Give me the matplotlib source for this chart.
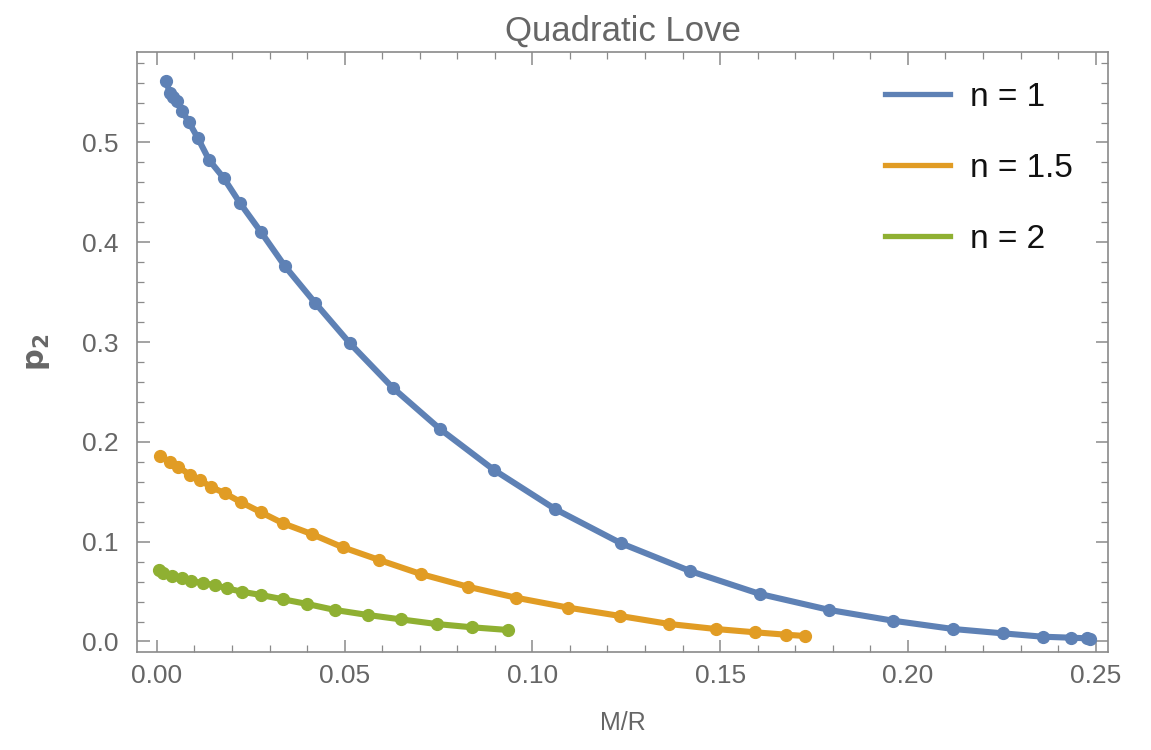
import matplotlib
matplotlib.use("Agg")
import matplotlib.pyplot as plt
from matplotlib.ticker import MultipleLocator

plt.rcParams['font.family'] = ['Liberation Sans', 'DejaVu Sans']

# Quadratic Love number p2 versus compactness M/R for three polytropic indices
mr_n1 = [0.0024, 0.0035, 0.0043, 0.0053, 0.0067, 0.0085, 0.0109, 0.0139, 0.0178,
         0.0221, 0.0277, 0.0341, 0.0421, 0.0514, 0.0628, 0.0754, 0.0898, 0.1060,
         0.1236, 0.1420, 0.1606, 0.1791, 0.1961, 0.2121, 0.2252, 0.2359, 0.2435,
         0.2477, 0.2485]
p2_n1 = [0.5616, 0.5496, 0.5456, 0.5416, 0.5316, 0.5206, 0.5045, 0.4825, 0.4644,
         0.4395, 0.4104, 0.3760, 0.3395, 0.2988, 0.2543, 0.2129, 0.1718, 0.1328,
         0.0984, 0.0706, 0.0476, 0.0316, 0.0208, 0.0125, 0.0082, 0.0048, 0.0038,
         0.0032, 0.0025]

mr_n15 = [0.0008, 0.0035, 0.0057, 0.0088, 0.0115, 0.0143, 0.0181, 0.0223, 0.0277,
          0.0336, 0.0412, 0.0495, 0.0592, 0.0703, 0.0828, 0.0956, 0.1096, 0.1233,
          0.1365, 0.1489, 0.1593, 0.1676, 0.1726]
p2_n15 = [0.1859, 0.1800, 0.1752, 0.1668, 0.1618, 0.1551, 0.1485, 0.1398, 0.1295,
          0.1184, 0.1077, 0.0944, 0.0817, 0.0676, 0.0549, 0.0439, 0.0339, 0.0256,
          0.0175, 0.0125, 0.0092, 0.0068, 0.0055]

mr_n2 = [0.0005, 0.0017, 0.0039, 0.0066, 0.0092, 0.0123, 0.0155, 0.0186, 0.0226,
         0.0277, 0.0336, 0.0400, 0.0474, 0.0561, 0.0649, 0.0745, 0.0840, 0.0936]
p2_n2 = [0.0716, 0.0689, 0.0659, 0.0633, 0.0609, 0.0583, 0.0566, 0.0533, 0.0499,
         0.0466, 0.0423, 0.0376, 0.0316, 0.0266, 0.0222, 0.0175, 0.0142, 0.0115]

labels = ["n = 1", "n = 1.5", "n = 2"]
colors = ["#5E81B5", "#E19C24", "#8FB032"]

gray = "#666666"
frame_gray = "#8a8a8a"

W, H = 1151, 750
fig = plt.figure(figsize=(W / 100, H / 100), dpi=100)
ax = fig.add_axes([0.119, 0.1307, 0.8437, 0.80])

series = [(mr_n1, p2_n1), (mr_n15, p2_n15), (mr_n2, p2_n2)]
for (xs, ys), col, lab in zip(series, colors, labels):
    ax.plot(xs, ys, color=col, lw=4.4, solid_capstyle='round', zorder=2)
    ax.plot(xs, ys, 'o', color=col, ms=8.5, zorder=3)
    ax.plot([], [], color=col, lw=3.8, label=lab)

ax.set_xlim(-0.0053, 0.2533)
ax.set_ylim(-0.0105, 0.5907)

ax.xaxis.set_major_locator(MultipleLocator(0.05))
ax.xaxis.set_minor_locator(MultipleLocator(0.01))
ax.yaxis.set_major_locator(MultipleLocator(0.1))
ax.yaxis.set_minor_locator(MultipleLocator(0.02))
ax.xaxis.set_major_formatter(plt.FuncFormatter(lambda v, p: f"{v:.2f}"))
ax.yaxis.set_major_formatter(plt.FuncFormatter(lambda v, p: f"{v:.1f}"))

ax.tick_params(which='both', direction='in', top=True, right=True,
               color=frame_gray, labelcolor=gray, labelsize=19)
ax.tick_params(which='major', length=9, width=1.1)
ax.tick_params(axis='y', which='major', pad=13)
ax.tick_params(axis='x', which='major', pad=9)
ax.tick_params(which='minor', length=5, width=0.9)
for sp in ax.spines.values():
    sp.set_color(frame_gray)
    sp.set_linewidth(1.2)

ax.set_title("Quadratic Love", fontsize=25, color=gray, pad=8)
ax.set_xlabel("M/R", fontsize=18, color=gray, labelpad=16)
ax.set_ylabel(r"$\mathbf{p_2}$", fontsize=22, color=gray, labelpad=22)

leg = ax.legend(loc='upper left', frameon=False, fontsize=24, handlelength=1.95,
                handletextpad=0.6, labelspacing=1.2, borderpad=0,
                borderaxespad=0, bbox_to_anchor=(885 / W, 1 - 82 / H),
                bbox_transform=fig.transFigure)
for t in leg.get_texts():
    t.set_color("#111111")

fig.savefig("out.png", dpi=100, facecolor="white")
